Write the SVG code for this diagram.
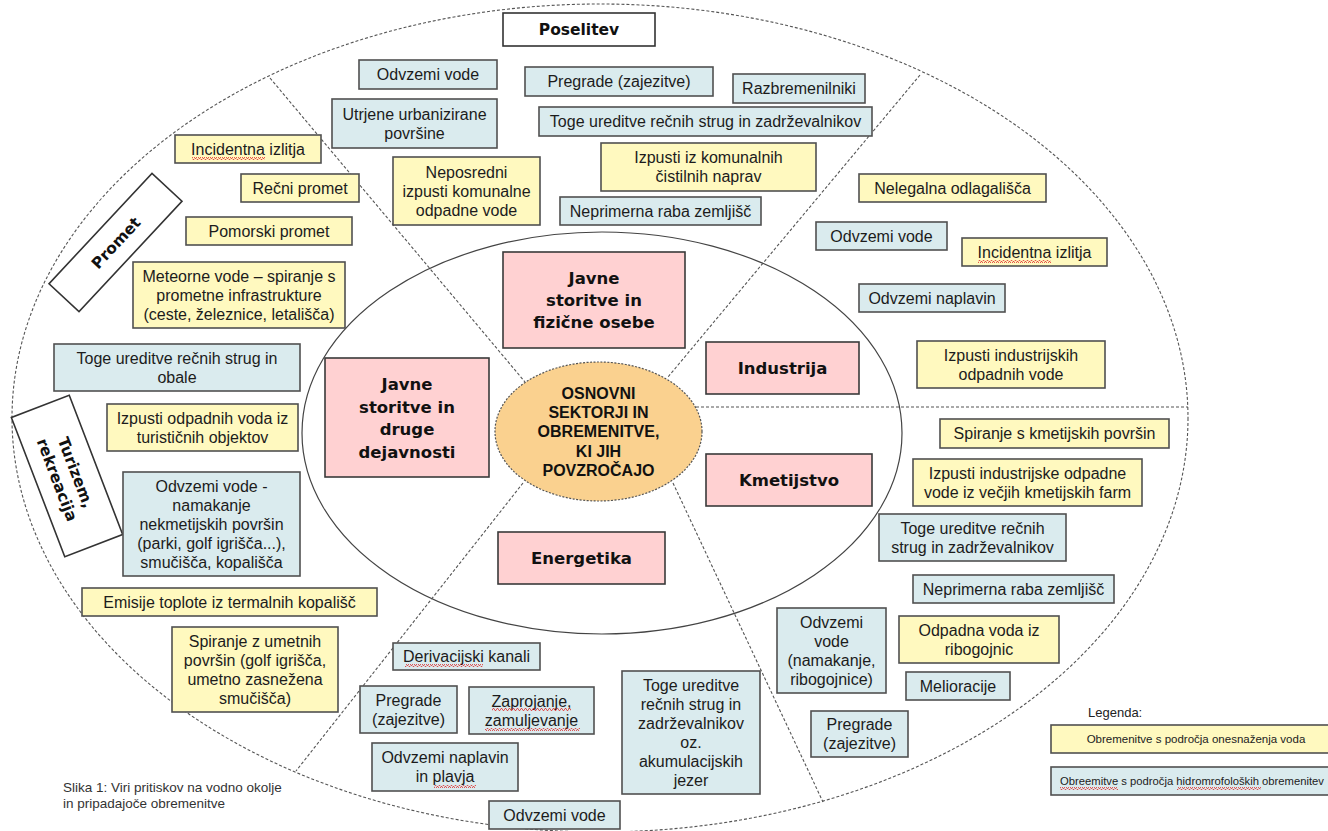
<svg xmlns="http://www.w3.org/2000/svg" width="1328" height="831" viewBox="0 0 1328 831">
<defs>
<style>
.y{fill:#FFF9BF;stroke:#505050;stroke-width:1.6}
.b{fill:#DAEBEE;stroke:#505050;stroke-width:1.6}
.p{fill:#FFD1D2;stroke:#3a3a3a;stroke-width:1.6}
.w{fill:#ffffff;stroke:#333;stroke-width:1.6}
text{font-family:"Liberation Sans",Arial,sans-serif;font-size:16px;fill:#1c1c1c;text-anchor:middle}
.bd{font-family:"DejaVu Sans",Verdana,sans-serif;font-weight:bold;font-size:16.5px;fill:#111}
.lb{font-family:"DejaVu Sans",Verdana,sans-serif;font-weight:bold;font-size:15.5px;fill:#111}
.ce{font-family:"Liberation Sans",Arial,sans-serif;font-weight:bold;font-size:16px;fill:#111}
.cap{font-size:13.5px;fill:#333;text-anchor:start}
.lg{font-size:11.5px;fill:#222}
.dash{fill:none;stroke:#555;stroke-width:1.1;stroke-dasharray:3 2}
.sq{fill:url(#squig)}
</style>
<pattern id="squig" width="4" height="3" patternUnits="userSpaceOnUse">
<path d="M0,2.5 L1,0.5 L2,0.5 L3,2.5 L4,2.5" fill="none" stroke="#e03030" stroke-width="0.8"/>
</pattern>
</defs>
<rect width="1328" height="831" fill="#ffffff"/>

<g id="frame">
<ellipse cx="600" cy="418" rx="588" ry="414" class="dash"/>
<ellipse cx="602" cy="433" rx="300" ry="201" fill="none" stroke="#444" stroke-width="1.2"/>
</g>

<g id="connectors">
<line x1="270" y1="78" x2="525" y2="382" class="dash"/>
<line x1="920" y1="75" x2="668" y2="377" class="dash"/>
<line x1="696" y1="407" x2="1188" y2="407" class="dash"/>
<line x1="673" y1="483" x2="823" y2="802" class="dash"/>
<line x1="523" y1="483" x2="296" y2="771" class="dash"/>
</g>

<g id="center">
<ellipse cx="598.5" cy="431.5" rx="103.5" ry="69.5" fill="#FAD18F" stroke="#555" stroke-width="1.2" stroke-dasharray="2 1.5"/>
<text class="ce" x="598.5" y="399">OSNOVNI</text>
<text class="ce" x="598.5" y="418">SEKTORJI IN</text>
<text class="ce" x="598.5" y="437">OBREMENITVE,</text>
<text class="ce" x="598.5" y="457">KI JIH</text>
<text class="ce" x="598.5" y="476">POVZROČAJO</text>
</g>

<!-- sectors -->
<g id="sec-fizicne"><rect class="p" x="503" y="252" width="182" height="96"/>
<text class="bd" x="594" y="284">Javne</text><text class="bd" x="594" y="306">storitve in</text><text class="bd" x="594" y="328">fizične osebe</text></g>
<g id="sec-druge"><rect class="p" x="325" y="358" width="164" height="119"/>
<text class="bd" x="407" y="390">Javne</text><text class="bd" x="407" y="412.5">storitve in</text><text class="bd" x="407" y="435">druge</text><text class="bd" x="407" y="457.5">dejavnosti</text></g>
<g id="sec-industrija"><rect class="p" x="706" y="342" width="153" height="52"/><text class="bd" x="782.5" y="374">Industrija</text></g>
<g id="sec-kmetijstvo"><rect class="p" x="706" y="454" width="166" height="52"/><text class="bd" x="789" y="486">Kmetijstvo</text></g>
<g id="sec-energetika"><rect class="p" x="498" y="532" width="167" height="52"/><text class="bd" x="581.5" y="564">Energetika</text></g>

<!-- labels -->
<g id="lbl-poselitev"><rect class="w" x="503" y="13" width="152" height="33"/><text class="lb" x="579" y="35">Poselitev</text></g>
<g id="lbl-promet" transform="translate(115.5,242.5) rotate(-47)"><rect class="w" x="-75.5" y="-20.5" width="151" height="41"/><text class="lb" x="0" y="6">Promet</text></g>
<g id="lbl-turizem" transform="translate(67,476) rotate(69)"><rect class="w" x="-74.5" y="-31" width="149" height="62"/><text class="lb" x="0" y="-4">Turizem,</text><text class="lb" x="0" y="16">rekreacija</text></g>

<!-- Poselitev -->
<g id="n1"><rect class="b" x="359" y="60" width="138" height="29"/><text x="428" y="80">Odvzemi vode</text></g>
<g id="n2"><rect class="b" x="525" y="67" width="188" height="29"/><text x="619" y="87">Pregrade (zajezitve)</text></g>
<g id="n3"><rect class="b" x="733" y="74" width="132" height="29"/><text x="799" y="94">Razbremenilniki</text></g>
<g id="n4"><rect class="b" x="332" y="99" width="165" height="49"/><text x="414.5" y="119.5">Utrjene urbanizirane</text><text x="414.5" y="138.5">površine</text></g>
<g id="n5"><rect class="b" x="539" y="107" width="333" height="29"/><text x="705.5" y="127">Toge ureditve rečnih strug in zadrževalnikov</text></g>
<g id="n6"><rect class="y" x="601" y="143" width="215" height="48"/><text x="708.5" y="163">Izpusti iz komunalnih</text><text x="708.5" y="182">čistilnih naprav</text></g>
<g id="n7"><rect class="y" x="393" y="157" width="147" height="68"/><text x="466.5" y="177.5">Neposredni</text><text x="466.5" y="196.5">izpusti komunalne</text><text x="466.5" y="215.5">odpadne vode</text></g>
<g id="n8"><rect class="b" x="560" y="197" width="201" height="28"/><text x="660.5" y="216.5">Neprimerna raba zemljišč</text></g>

<!-- Industrija -->
<g id="n9"><rect class="y" x="859" y="174" width="187" height="28"/><text x="952.5" y="193.5">Nelegalna odlagališča</text></g>
<g id="n10"><rect class="b" x="816" y="222" width="131" height="28"/><text x="881.5" y="241.5">Odvzemi vode</text></g>
<g id="n11"><rect class="y" x="962" y="238" width="145" height="28"/><text x="1034.5" y="257.5">Incidentna izlitja</text><rect class="sq" x="978" y="260" width="73" height="3"/></g>
<g id="n12"><rect class="b" x="859" y="284" width="146" height="28"/><text x="932" y="303.5">Odvzemi naplavin</text></g>
<g id="n13"><rect class="y" x="917" y="341" width="188" height="47"/><text x="1011" y="360.5">Izpusti industrijskih</text><text x="1011" y="379.5">odpadnih vode</text></g>

<!-- Kmetijstvo -->
<g id="n14"><rect class="y" x="940" y="419" width="229" height="29"/><text x="1054.5" y="439">Spiranje s kmetijskih površin</text></g>
<g id="n15"><rect class="y" x="913" y="459" width="229" height="47"/><text x="1027.5" y="478.5">Izpusti industrijske odpadne</text><text x="1027.5" y="497.5">vode iz večjih kmetijskih farm</text></g>
<g id="n16"><rect class="b" x="879" y="514" width="187" height="47"/><text x="972.5" y="533.5">Toge ureditve rečnih</text><text x="972.5" y="552.5">strug in zadrževalnikov</text></g>
<g id="n17"><rect class="b" x="913" y="575" width="201" height="28"/><text x="1013.5" y="594.5">Neprimerna raba zemljišč</text></g>
<g id="n18"><rect class="y" x="899" y="616" width="160" height="47"/><text x="979" y="635.5">Odpadna voda iz</text><text x="979" y="654.5">ribogojnic</text></g>
<g id="n19"><rect class="b" x="906" y="672" width="104" height="28"/><text x="958" y="691.5">Melioracije</text></g>
<g id="n20"><rect class="b" x="777" y="608" width="109" height="85"/><text x="831.5" y="627.5">Odvzemi</text><text x="831.5" y="646.5">vode</text><text x="831.5" y="665.5">(namakanje,</text><text x="831.5" y="684.5">ribogojnice)</text></g>
<g id="n21"><rect class="b" x="811" y="711" width="97" height="46"/><text x="859.5" y="730">Pregrade</text><text x="859.5" y="749">(zajezitve)</text></g>

<!-- Energetika -->
<g id="n22"><rect class="b" x="393" y="643" width="147" height="27"/><text x="466.5" y="662">Derivacijski kanali</text><rect class="sq" x="405" y="664" width="78" height="3"/></g>
<g id="n23"><rect class="b" x="360" y="686" width="97" height="47"/><text x="408.5" y="705.5">Pregrade</text><text x="408.5" y="724.5">(zajezitve)</text></g>
<g id="n24"><rect class="b" x="469" y="687" width="125" height="47"/><text x="531.5" y="706.5">Zaprojanje,</text><text x="531.5" y="725.5">zamuljevanje</text><rect class="sq" x="492" y="708" width="79" height="3"/><rect class="sq" x="485" y="728" width="95" height="3"/></g>
<g id="n25"><rect class="b" x="372" y="743" width="146" height="48"/><text x="445" y="763">Odvzemi naplavin</text><text x="445" y="782">in plavja</text><rect class="sq" x="434" y="785" width="42" height="3"/></g>
<g id="n26"><rect class="b" x="622" y="671" width="138" height="123"/><text x="691" y="690.5">Toge ureditve</text><text x="691" y="709.5">rečnih strug in</text><text x="691" y="728.5">zadrževalnikov</text><text x="691" y="747.5">oz.</text><text x="691" y="766.5">akumulacijskih</text><text x="691" y="785.5">jezer</text></g>
<g id="n27"><rect class="b" x="489" y="801" width="131" height="28"/><text x="554.5" y="820.5">Odvzemi vode</text></g>

<!-- Promet -->
<g id="n28"><rect class="y" x="175" y="135" width="146" height="28"/><text x="248" y="154.5">Incidentna izlitja</text><rect class="sq" x="192" y="157" width="73" height="3"/></g>
<g id="n29"><rect class="y" x="241" y="174" width="118" height="28"/><text x="300" y="193.5">Rečni promet</text></g>
<g id="n30"><rect class="y" x="186" y="217" width="166" height="28"/><text x="269" y="236.5">Pomorski promet</text></g>
<g id="n31"><rect class="y" x="133" y="262" width="212" height="66"/><text x="239" y="281.5">Meteorne vode – spiranje s</text><text x="239" y="300.5">prometne infrastrukture</text><text x="239" y="319.5">(ceste, železnice, letališča)</text></g>

<!-- Turizem -->
<g id="n32"><rect class="b" x="54" y="344" width="246" height="47"/><text x="177" y="363.5">Toge ureditve rečnih strug in</text><text x="177" y="382.5">obale</text></g>
<g id="n33"><rect class="y" x="107" y="404" width="191" height="47"/><text x="202.5" y="423.5">Izpusti odpadnih voda iz</text><text x="202.5" y="442.5">turističnih objektov</text></g>
<g id="n34"><rect class="b" x="123" y="472" width="177" height="104"/><text x="211.5" y="491.5">Odvzemi vode -</text><text x="211.5" y="510.5">namakanje</text><text x="211.5" y="529.5">nekmetijskih površin</text><text x="211.5" y="548.5">(parki, golf igrišča...),</text><text x="211.5" y="567.5">smučišča, kopališča</text></g>
<g id="n35"><rect class="y" x="82" y="588" width="295" height="28"/><text x="229.5" y="607.5">Emisije toplote iz termalnih kopališč</text></g>
<g id="n36"><rect class="y" x="172" y="627" width="166" height="85"/><text x="255" y="646.5">Spiranje z umetnih</text><text x="255" y="665.5">površin (golf igrišča,</text><text x="255" y="684.5">umetno zasnežena</text><text x="255" y="703.5">smučišča)</text></g>

<!-- caption -->
<g id="caption"><text class="cap" x="63" y="792">Slika 1: Viri pritiskov na vodno okolje</text><text class="cap" x="63" y="808">in pripadajoče obremenitve</text></g>

<!-- legend -->
<g id="legend">
<text class="lg" x="1088" y="717" style="text-anchor:start;font-size:13px">Legenda:</text>
<rect class="y" x="1051" y="725" width="290" height="28"/><text class="lg" x="1196" y="743">Obremenitve s področja onesnaženja voda</text>
<rect class="b" x="1051" y="767" width="290" height="28"/><text class="lg" x="1060" y="785" style="text-anchor:start" textLength="264" lengthAdjust="spacingAndGlyphs">Obreemitve s področja hidromrofoloških obremenitev</text>
<rect class="sq" x="1060" y="787" width="58" height="3"/><rect class="sq" x="1177" y="787" width="84" height="3"/>
</g>
</svg>
